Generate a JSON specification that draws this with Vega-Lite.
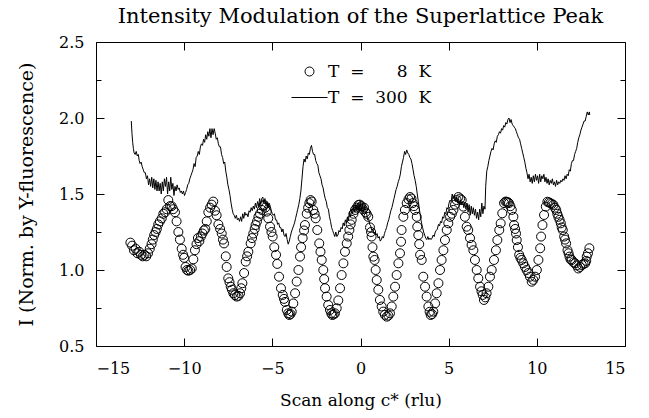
{
"$schema": "https://vega.github.io/schema/vega-lite/v6.json",
"width": 529,
"height": 304,
"autosize": "none",
"padding": {"left": 96, "top": 42, "right": 24, "bottom": 72},
"background": "white",
"config": {
 "font": "DejaVu Serif",
 "view": {"stroke": "black", "strokeWidth": 1},
 "axis": {"grid": false, "domain": false, "tickColor": "black", "labelColor": "black", "titleColor": "black", "labelFont": "DejaVu Serif", "titleFont": "DejaVu Serif", "titleFontWeight": "normal"}
},
"title": {"text": "Intensity Modulation of the Superlattice Peak", "fontSize": 21, "fontWeight": "normal", "font": "DejaVu Serif", "color": "black", "offset": 7},
"layer": [
{"data": {"values": [
{"x":-13.0,"y":1.98},{"x":-12.96,"y":1.9},{"x":-12.92,"y":1.84},{"x":-12.88,"y":1.8},{"x":-12.84,"y":1.77},{"x":-12.78,"y":1.76},{"x":-12.72,"y":1.78},{"x":-12.66,"y":1.75},{"x":-12.6,"y":1.76},{"x":-12.55,"y":1.72},{"x":-12.5,"y":1.7},{"x":-12.44,"y":1.71},{"x":-12.38,"y":1.68},{"x":-12.32,"y":1.66},{"x":-12.26,"y":1.64},{"x":-12.2,"y":1.64},{"x":-12.14,"y":1.6},{"x":-12.08,"y":1.62},{"x":-12.02,"y":1.56},{"x":-11.96,"y":1.6},{"x":-11.9,"y":1.55},{"x":-11.84,"y":1.61},{"x":-11.78,"y":1.54},{"x":-11.72,"y":1.6},{"x":-11.66,"y":1.53},{"x":-11.6,"y":1.59},{"x":-11.54,"y":1.52},{"x":-11.48,"y":1.58},{"x":-11.42,"y":1.52},{"x":-11.36,"y":1.57},{"x":-11.3,"y":1.5},{"x":-11.24,"y":1.58},{"x":-11.18,"y":1.52},{"x":-11.12,"y":1.6},{"x":-11.06,"y":1.55},{"x":-11.0,"y":1.61},{"x":-10.94,"y":1.5},{"x":-10.88,"y":1.58},{"x":-10.82,"y":1.52},{"x":-10.76,"y":1.61},{"x":-10.7,"y":1.53},{"x":-10.64,"y":1.57},{"x":-10.58,"y":1.49},{"x":-10.52,"y":1.55},{"x":-10.46,"y":1.52},{"x":-10.4,"y":1.56},{"x":-10.34,"y":1.53},{"x":-10.28,"y":1.54},{"x":-10.22,"y":1.51},{"x":-10.16,"y":1.52},{"x":-10.1,"y":1.5},{"x":-10.04,"y":1.52},{"x":-9.98,"y":1.49},{"x":-9.92,"y":1.51},{"x":-9.86,"y":1.53},{"x":-9.8,"y":1.56},{"x":-9.74,"y":1.57},{"x":-9.68,"y":1.6},{"x":-9.62,"y":1.62},{"x":-9.56,"y":1.64},{"x":-9.5,"y":1.66},{"x":-9.44,"y":1.7},{"x":-9.38,"y":1.68},{"x":-9.32,"y":1.74},{"x":-9.26,"y":1.75},{"x":-9.2,"y":1.78},{"x":-9.14,"y":1.76},{"x":-9.08,"y":1.81},{"x":-9.02,"y":1.83},{"x":-8.96,"y":1.82},{"x":-8.9,"y":1.86},{"x":-8.84,"y":1.84},{"x":-8.78,"y":1.89},{"x":-8.72,"y":1.86},{"x":-8.66,"y":1.91},{"x":-8.6,"y":1.88},{"x":-8.54,"y":1.93},{"x":-8.48,"y":1.87},{"x":-8.42,"y":1.93},{"x":-8.36,"y":1.89},{"x":-8.3,"y":1.93},{"x":-8.24,"y":1.9},{"x":-8.18,"y":1.86},{"x":-8.12,"y":1.87},{"x":-8.06,"y":1.83},{"x":-8.0,"y":1.81},{"x":-7.94,"y":1.81},{"x":-7.88,"y":1.76},{"x":-7.82,"y":1.74},{"x":-7.76,"y":1.7},{"x":-7.7,"y":1.71},{"x":-7.64,"y":1.65},{"x":-7.58,"y":1.61},{"x":-7.52,"y":1.56},{"x":-7.46,"y":1.53},{"x":-7.4,"y":1.49},{"x":-7.34,"y":1.44},{"x":-7.28,"y":1.4},{"x":-7.22,"y":1.37},{"x":-7.16,"y":1.36},{"x":-7.1,"y":1.34},{"x":-7.04,"y":1.36},{"x":-6.98,"y":1.33},{"x":-6.92,"y":1.34},{"x":-6.86,"y":1.32},{"x":-6.8,"y":1.35},{"x":-6.74,"y":1.32},{"x":-6.68,"y":1.37},{"x":-6.62,"y":1.34},{"x":-6.56,"y":1.38},{"x":-6.5,"y":1.36},{"x":-6.44,"y":1.37},{"x":-6.38,"y":1.35},{"x":-6.32,"y":1.39},{"x":-6.26,"y":1.38},{"x":-6.2,"y":1.41},{"x":-6.14,"y":1.39},{"x":-6.08,"y":1.42},{"x":-6.02,"y":1.4},{"x":-5.96,"y":1.44},{"x":-5.9,"y":1.41},{"x":-5.84,"y":1.45},{"x":-5.78,"y":1.42},{"x":-5.72,"y":1.47},{"x":-5.66,"y":1.43},{"x":-5.6,"y":1.47},{"x":-5.54,"y":1.48},{"x":-5.48,"y":1.44},{"x":-5.42,"y":1.47},{"x":-5.36,"y":1.42},{"x":-5.3,"y":1.45},{"x":-5.24,"y":1.41},{"x":-5.18,"y":1.44},{"x":-5.12,"y":1.42},{"x":-5.06,"y":1.39},{"x":-5.0,"y":1.37},{"x":-4.94,"y":1.36},{"x":-4.88,"y":1.37},{"x":-4.82,"y":1.33},{"x":-4.76,"y":1.33},{"x":-4.7,"y":1.3},{"x":-4.64,"y":1.31},{"x":-4.58,"y":1.28},{"x":-4.52,"y":1.28},{"x":-4.46,"y":1.25},{"x":-4.4,"y":1.27},{"x":-4.34,"y":1.23},{"x":-4.28,"y":1.22},{"x":-4.22,"y":1.24},{"x":-4.16,"y":1.2},{"x":-4.1,"y":1.17},{"x":-4.04,"y":1.19},{"x":-3.98,"y":1.22},{"x":-3.92,"y":1.25},{"x":-3.86,"y":1.27},{"x":-3.8,"y":1.29},{"x":-3.74,"y":1.31},{"x":-3.68,"y":1.34},{"x":-3.62,"y":1.37},{"x":-3.56,"y":1.4},{"x":-3.5,"y":1.43},{"x":-3.44,"y":1.47},{"x":-3.38,"y":1.52},{"x":-3.32,"y":1.6},{"x":-3.26,"y":1.68},{"x":-3.2,"y":1.73},{"x":-3.14,"y":1.71},{"x":-3.08,"y":1.75},{"x":-3.02,"y":1.73},{"x":-2.96,"y":1.77},{"x":-2.9,"y":1.76},{"x":-2.84,"y":1.8},{"x":-2.78,"y":1.82},{"x":-2.72,"y":1.78},{"x":-2.66,"y":1.76},{"x":-2.6,"y":1.76},{"x":-2.54,"y":1.72},{"x":-2.48,"y":1.7},{"x":-2.42,"y":1.69},{"x":-2.36,"y":1.64},{"x":-2.3,"y":1.62},{"x":-2.24,"y":1.6},{"x":-2.18,"y":1.56},{"x":-2.12,"y":1.54},{"x":-2.06,"y":1.5},{"x":-2.0,"y":1.47},{"x":-1.94,"y":1.45},{"x":-1.88,"y":1.41},{"x":-1.82,"y":1.4},{"x":-1.76,"y":1.35},{"x":-1.7,"y":1.32},{"x":-1.64,"y":1.28},{"x":-1.58,"y":1.26},{"x":-1.52,"y":1.24},{"x":-1.46,"y":1.22},{"x":-1.4,"y":1.25},{"x":-1.34,"y":1.22},{"x":-1.28,"y":1.23},{"x":-1.22,"y":1.26},{"x":-1.16,"y":1.25},{"x":-1.1,"y":1.28},{"x":-1.04,"y":1.27},{"x":-0.98,"y":1.31},{"x":-0.92,"y":1.29},{"x":-0.86,"y":1.33},{"x":-0.8,"y":1.31},{"x":-0.74,"y":1.35},{"x":-0.68,"y":1.33},{"x":-0.62,"y":1.38},{"x":-0.56,"y":1.35},{"x":-0.5,"y":1.4},{"x":-0.44,"y":1.37},{"x":-0.38,"y":1.42},{"x":-0.32,"y":1.38},{"x":-0.26,"y":1.43},{"x":-0.2,"y":1.39},{"x":-0.14,"y":1.44},{"x":-0.08,"y":1.4},{"x":-0.02,"y":1.45},{"x":0.04,"y":1.39},{"x":0.1,"y":1.44},{"x":0.16,"y":1.38},{"x":0.22,"y":1.42},{"x":0.28,"y":1.37},{"x":0.34,"y":1.38},{"x":0.4,"y":1.33},{"x":0.46,"y":1.34},{"x":0.52,"y":1.3},{"x":0.58,"y":1.29},{"x":0.64,"y":1.26},{"x":0.7,"y":1.27},{"x":0.76,"y":1.24},{"x":0.82,"y":1.25},{"x":0.88,"y":1.23},{"x":0.94,"y":1.24},{"x":1.0,"y":1.21},{"x":1.06,"y":1.22},{"x":1.12,"y":1.19},{"x":1.18,"y":1.2},{"x":1.24,"y":1.22},{"x":1.3,"y":1.21},{"x":1.36,"y":1.24},{"x":1.42,"y":1.26},{"x":1.48,"y":1.28},{"x":1.54,"y":1.31},{"x":1.6,"y":1.33},{"x":1.66,"y":1.36},{"x":1.72,"y":1.39},{"x":1.78,"y":1.41},{"x":1.84,"y":1.44},{"x":1.9,"y":1.47},{"x":1.96,"y":1.5},{"x":2.02,"y":1.53},{"x":2.08,"y":1.55},{"x":2.14,"y":1.58},{"x":2.2,"y":1.6},{"x":2.26,"y":1.63},{"x":2.32,"y":1.68},{"x":2.38,"y":1.71},{"x":2.44,"y":1.74},{"x":2.5,"y":1.78},{"x":2.56,"y":1.76},{"x":2.62,"y":1.79},{"x":2.68,"y":1.77},{"x":2.74,"y":1.76},{"x":2.8,"y":1.74},{"x":2.86,"y":1.73},{"x":2.92,"y":1.7},{"x":2.98,"y":1.66},{"x":3.04,"y":1.62},{"x":3.1,"y":1.59},{"x":3.16,"y":1.55},{"x":3.22,"y":1.5},{"x":3.28,"y":1.45},{"x":3.34,"y":1.4},{"x":3.4,"y":1.35},{"x":3.46,"y":1.31},{"x":3.52,"y":1.28},{"x":3.58,"y":1.25},{"x":3.64,"y":1.23},{"x":3.7,"y":1.21},{"x":3.76,"y":1.2},{"x":3.82,"y":1.22},{"x":3.88,"y":1.2},{"x":3.94,"y":1.21},{"x":4.0,"y":1.2},{"x":4.06,"y":1.21},{"x":4.12,"y":1.23},{"x":4.18,"y":1.22},{"x":4.24,"y":1.25},{"x":4.3,"y":1.26},{"x":4.36,"y":1.27},{"x":4.42,"y":1.3},{"x":4.48,"y":1.29},{"x":4.54,"y":1.32},{"x":4.6,"y":1.31},{"x":4.66,"y":1.35},{"x":4.72,"y":1.34},{"x":4.78,"y":1.38},{"x":4.84,"y":1.37},{"x":4.9,"y":1.41},{"x":4.96,"y":1.4},{"x":5.02,"y":1.44},{"x":5.08,"y":1.46},{"x":5.14,"y":1.45},{"x":5.2,"y":1.5},{"x":5.26,"y":1.47},{"x":5.32,"y":1.49},{"x":5.38,"y":1.45},{"x":5.44,"y":1.48},{"x":5.5,"y":1.44},{"x":5.56,"y":1.47},{"x":5.62,"y":1.43},{"x":5.68,"y":1.46},{"x":5.74,"y":1.43},{"x":5.8,"y":1.45},{"x":5.86,"y":1.41},{"x":5.92,"y":1.44},{"x":5.98,"y":1.4},{"x":6.04,"y":1.44},{"x":6.1,"y":1.38},{"x":6.16,"y":1.43},{"x":6.22,"y":1.36},{"x":6.28,"y":1.42},{"x":6.34,"y":1.37},{"x":6.4,"y":1.41},{"x":6.46,"y":1.36},{"x":6.52,"y":1.4},{"x":6.58,"y":1.34},{"x":6.64,"y":1.38},{"x":6.7,"y":1.33},{"x":6.76,"y":1.4},{"x":6.82,"y":1.35},{"x":6.88,"y":1.44},{"x":6.94,"y":1.37},{"x":7.0,"y":1.42},{"x":7.06,"y":1.4},{"x":7.1,"y":1.55},{"x":7.16,"y":1.65},{"x":7.22,"y":1.68},{"x":7.28,"y":1.72},{"x":7.34,"y":1.75},{"x":7.4,"y":1.78},{"x":7.46,"y":1.8},{"x":7.52,"y":1.79},{"x":7.58,"y":1.83},{"x":7.64,"y":1.85},{"x":7.7,"y":1.84},{"x":7.76,"y":1.88},{"x":7.82,"y":1.89},{"x":7.88,"y":1.91},{"x":7.94,"y":1.9},{"x":8.0,"y":1.93},{"x":8.06,"y":1.92},{"x":8.12,"y":1.95},{"x":8.18,"y":1.94},{"x":8.24,"y":1.97},{"x":8.3,"y":1.96},{"x":8.36,"y":1.99},{"x":8.42,"y":2.0},{"x":8.48,"y":1.97},{"x":8.54,"y":1.99},{"x":8.6,"y":1.96},{"x":8.66,"y":1.95},{"x":8.72,"y":1.94},{"x":8.78,"y":1.93},{"x":8.84,"y":1.91},{"x":8.9,"y":1.89},{"x":8.96,"y":1.87},{"x":9.02,"y":1.86},{"x":9.08,"y":1.83},{"x":9.14,"y":1.8},{"x":9.2,"y":1.77},{"x":9.26,"y":1.74},{"x":9.32,"y":1.71},{"x":9.38,"y":1.67},{"x":9.44,"y":1.64},{"x":9.5,"y":1.6},{"x":9.56,"y":1.63},{"x":9.62,"y":1.58},{"x":9.68,"y":1.61},{"x":9.74,"y":1.57},{"x":9.8,"y":1.62},{"x":9.86,"y":1.58},{"x":9.92,"y":1.63},{"x":9.98,"y":1.59},{"x":10.04,"y":1.62},{"x":10.1,"y":1.57},{"x":10.16,"y":1.63},{"x":10.22,"y":1.58},{"x":10.28,"y":1.62},{"x":10.34,"y":1.6},{"x":10.4,"y":1.63},{"x":10.46,"y":1.58},{"x":10.52,"y":1.61},{"x":10.58,"y":1.57},{"x":10.64,"y":1.6},{"x":10.7,"y":1.56},{"x":10.76,"y":1.59},{"x":10.82,"y":1.57},{"x":10.88,"y":1.6},{"x":10.94,"y":1.56},{"x":11.0,"y":1.58},{"x":11.06,"y":1.55},{"x":11.12,"y":1.59},{"x":11.18,"y":1.56},{"x":11.24,"y":1.58},{"x":11.3,"y":1.57},{"x":11.36,"y":1.59},{"x":11.42,"y":1.58},{"x":11.48,"y":1.6},{"x":11.54,"y":1.59},{"x":11.6,"y":1.62},{"x":11.66,"y":1.6},{"x":11.72,"y":1.63},{"x":11.78,"y":1.62},{"x":11.84,"y":1.66},{"x":11.9,"y":1.65},{"x":11.96,"y":1.7},{"x":12.02,"y":1.72},{"x":12.08,"y":1.72},{"x":12.14,"y":1.76},{"x":12.2,"y":1.78},{"x":12.26,"y":1.8},{"x":12.32,"y":1.84},{"x":12.38,"y":1.87},{"x":12.44,"y":1.89},{"x":12.5,"y":1.92},{"x":12.56,"y":1.94},{"x":12.62,"y":1.96},{"x":12.68,"y":1.98},{"x":12.74,"y":1.98},{"x":12.8,"y":2.01},{"x":12.86,"y":2.04},{"x":12.92,"y":2.02},{"x":12.98,"y":2.04},{"x":13.0,"y":2.02}
 ]},
 "mark": {"type": "line", "color": "black", "strokeWidth": 1},
 "encoding": {
  "x": {"field": "x", "type": "quantitative", "scale": {"domain": [-15, 15], "nice": false, "zero": false},
        "axis": {"orient": "bottom", "values": [-15,-10,-5,0,5,10,15], "tickSize": -8, "labelPadding": 22, "labelFontSize": 16, "title": "Scan along c* (rlu)", "titleFontSize": 17, "titlePadding": 16}},
  "y": {"field": "y", "type": "quantitative", "scale": {"domain": [0.5, 2.5], "nice": false, "zero": false},
        "axis": {"orient": "left", "values": [0.5,0.75,1,1.25,1.5,1.75,2,2.25,2.5], "tickSize": {"condition": {"test": "(datum.value*2) % 1 == 0", "value": -8}, "value": -5}, "labelExpr": "(datum.value*2) % 1 == 0 ? format(datum.value, '.1f') : ''", "labelPadding": 20, "labelFontSize": 16, "title": "I (Norm. by Y-fluorescence)", "titleFontSize": 19, "titlePadding": 22}}
 }
},
{"data": {"values": [
{"x":-13.05,"y":1.18},{"x":-12.95,"y":1.16},{"x":-12.85,"y":1.13},{"x":-12.75,"y":1.14},{"x":-12.65,"y":1.11},{"x":-12.55,"y":1.12},{"x":-12.45,"y":1.1},{"x":-12.35,"y":1.09},{"x":-12.25,"y":1.1},{"x":-12.15,"y":1.09},{"x":-12.05,"y":1.11},{"x":-11.95,"y":1.14},{"x":-11.85,"y":1.17},{"x":-11.78,"y":1.2},{"x":-11.7,"y":1.23},{"x":-11.62,"y":1.25},{"x":-11.55,"y":1.27},{"x":-11.47,"y":1.3},{"x":-11.38,"y":1.32},{"x":-11.27,"y":1.34},{"x":-11.18,"y":1.37},{"x":-11.08,"y":1.38},{"x":-10.99,"y":1.4},{"x":-10.9,"y":1.46},{"x":-10.8,"y":1.42},{"x":-10.71,"y":1.42},{"x":-10.62,"y":1.4},{"x":-10.52,"y":1.38},{"x":-10.43,"y":1.32},{"x":-10.33,"y":1.25},{"x":-10.24,"y":1.2},{"x":-10.14,"y":1.14},{"x":-10.06,"y":1.1},{"x":-10.0,"y":1.08},{"x":-9.92,"y":1.02},{"x":-9.84,"y":1.0},{"x":-9.76,"y":0.995},{"x":-9.66,"y":1.0},{"x":-9.57,"y":1.01},{"x":-9.48,"y":1.07},{"x":-9.39,"y":1.13},{"x":-9.3,"y":1.17},{"x":-9.22,"y":1.21},{"x":-9.14,"y":1.19},{"x":-9.05,"y":1.22},{"x":-8.96,"y":1.24},{"x":-8.88,"y":1.26},{"x":-8.8,"y":1.27},{"x":-8.72,"y":1.32},{"x":-8.63,"y":1.38},{"x":-8.53,"y":1.41},{"x":-8.44,"y":1.43},{"x":-8.35,"y":1.45},{"x":-8.25,"y":1.39},{"x":-8.16,"y":1.36},{"x":-8.06,"y":1.3},{"x":-7.96,"y":1.27},{"x":-7.87,"y":1.24},{"x":-7.8,"y":1.2},{"x":-7.74,"y":1.175},{"x":-7.64,"y":1.09},{"x":-7.59,"y":1.02},{"x":-7.5,"y":0.945},{"x":-7.43,"y":0.92},{"x":-7.36,"y":0.89},{"x":-7.29,"y":0.87},{"x":-7.21,"y":0.847},{"x":-7.12,"y":0.835},{"x":-7.02,"y":0.825},{"x":-6.92,"y":0.83},{"x":-6.83,"y":0.847},{"x":-6.76,"y":0.88},{"x":-6.7,"y":0.913},{"x":-6.6,"y":0.98},{"x":-6.51,"y":1.055},{"x":-6.43,"y":1.09},{"x":-6.36,"y":1.12},{"x":-6.23,"y":1.175},{"x":-6.15,"y":1.21},{"x":-6.08,"y":1.24},{"x":-6.0,"y":1.27},{"x":-5.95,"y":1.296},{"x":-5.87,"y":1.32},{"x":-5.79,"y":1.35},{"x":-5.7,"y":1.37},{"x":-5.6,"y":1.395},{"x":-5.52,"y":1.42},{"x":-5.47,"y":1.428},{"x":-5.4,"y":1.41},{"x":-5.32,"y":1.384},{"x":-5.23,"y":1.34},{"x":-5.13,"y":1.285},{"x":-5.05,"y":1.25},{"x":-4.98,"y":1.22},{"x":-4.89,"y":1.15},{"x":-4.79,"y":1.1},{"x":-4.72,"y":1.04},{"x":-4.62,"y":0.956},{"x":-4.51,"y":0.88},{"x":-4.41,"y":0.836},{"x":-4.34,"y":0.81},{"x":-4.28,"y":0.79},{"x":-4.18,"y":0.737},{"x":-4.1,"y":0.715},{"x":-4.04,"y":0.704},{"x":-3.97,"y":0.71},{"x":-3.9,"y":0.726},{"x":-3.81,"y":0.78},{"x":-3.71,"y":0.847},{"x":-3.62,"y":0.924},{"x":-3.52,"y":1.0},{"x":-3.43,"y":1.088},{"x":-3.37,"y":1.15},{"x":-3.28,"y":1.21},{"x":-3.2,"y":1.26},{"x":-3.15,"y":1.296},{"x":-3.05,"y":1.37},{"x":-2.97,"y":1.41},{"x":-2.9,"y":1.44},{"x":-2.83,"y":1.46},{"x":-2.77,"y":1.45},{"x":-2.68,"y":1.395},{"x":-2.6,"y":1.37},{"x":-2.54,"y":1.34},{"x":-2.45,"y":1.263},{"x":-2.34,"y":1.175},{"x":-2.27,"y":1.12},{"x":-2.2,"y":1.066},{"x":-2.11,"y":1.0},{"x":-2.06,"y":0.94},{"x":-2.01,"y":0.88},{"x":-1.92,"y":0.825},{"x":-1.83,"y":0.77},{"x":-1.73,"y":0.737},{"x":-1.66,"y":0.715},{"x":-1.6,"y":0.704},{"x":-1.52,"y":0.708},{"x":-1.45,"y":0.715},{"x":-1.35,"y":0.748},{"x":-1.26,"y":0.8},{"x":-1.16,"y":0.88},{"x":-1.07,"y":0.967},{"x":-0.97,"y":1.044},{"x":-0.88,"y":1.12},{"x":-0.78,"y":1.175},{"x":-0.7,"y":1.22},{"x":-0.63,"y":1.263},{"x":-0.56,"y":1.3},{"x":-0.5,"y":1.33},{"x":-0.4,"y":1.37},{"x":-0.31,"y":1.395},{"x":-0.22,"y":1.41},{"x":-0.12,"y":1.428},{"x":-0.04,"y":1.43},{"x":0.05,"y":1.42},{"x":0.13,"y":1.4},{"x":0.2,"y":1.41},{"x":0.28,"y":1.38},{"x":0.35,"y":1.37},{"x":0.44,"y":1.35},{"x":0.54,"y":1.28},{"x":0.6,"y":1.25},{"x":0.63,"y":1.22},{"x":0.68,"y":1.15},{"x":0.73,"y":1.088},{"x":0.8,"y":1.066},{"x":0.86,"y":1.0},{"x":0.92,"y":0.934},{"x":1.01,"y":0.87},{"x":1.1,"y":0.803},{"x":1.2,"y":0.76},{"x":1.29,"y":0.726},{"x":1.38,"y":0.705},{"x":1.49,"y":0.693},{"x":1.58,"y":0.7},{"x":1.67,"y":0.715},{"x":1.77,"y":0.76},{"x":1.86,"y":0.825},{"x":1.96,"y":0.89},{"x":2.05,"y":0.967},{"x":2.15,"y":1.044},{"x":2.24,"y":1.11},{"x":2.3,"y":1.186},{"x":2.33,"y":1.263},{"x":2.43,"y":1.35},{"x":2.52,"y":1.395},{"x":2.62,"y":1.44},{"x":2.72,"y":1.465},{"x":2.81,"y":1.48},{"x":2.89,"y":1.47},{"x":2.96,"y":1.44},{"x":3.03,"y":1.42},{"x":3.09,"y":1.395},{"x":3.19,"y":1.35},{"x":3.22,"y":1.285},{"x":3.28,"y":1.23},{"x":3.33,"y":1.17},{"x":3.38,"y":1.1},{"x":3.47,"y":1.066},{"x":3.56,"y":0.956},{"x":3.66,"y":0.89},{"x":3.75,"y":0.825},{"x":3.85,"y":0.76},{"x":3.92,"y":0.725},{"x":3.98,"y":0.704},{"x":4.06,"y":0.71},{"x":4.13,"y":0.726},{"x":4.23,"y":0.78},{"x":4.32,"y":0.847},{"x":4.42,"y":0.913},{"x":4.51,"y":1.0},{"x":4.6,"y":1.066},{"x":4.7,"y":1.13},{"x":4.79,"y":1.197},{"x":4.89,"y":1.263},{"x":4.98,"y":1.307},{"x":5.08,"y":1.35},{"x":5.18,"y":1.37},{"x":5.27,"y":1.395},{"x":5.36,"y":1.43},{"x":5.45,"y":1.46},{"x":5.55,"y":1.48},{"x":5.65,"y":1.47},{"x":5.74,"y":1.46},{"x":5.83,"y":1.417},{"x":5.92,"y":1.35},{"x":6.02,"y":1.285},{"x":6.11,"y":1.263},{"x":6.21,"y":1.21},{"x":6.3,"y":1.165},{"x":6.4,"y":1.13},{"x":6.49,"y":1.066},{"x":6.59,"y":1.0},{"x":6.68,"y":0.945},{"x":6.78,"y":0.89},{"x":6.86,"y":0.86},{"x":6.93,"y":0.836},{"x":7.0,"y":0.803},{"x":7.08,"y":0.82},{"x":7.15,"y":0.847},{"x":7.25,"y":0.89},{"x":7.34,"y":0.956},{"x":7.44,"y":1.0},{"x":7.57,"y":1.066},{"x":7.68,"y":1.13},{"x":7.76,"y":1.197},{"x":7.87,"y":1.263},{"x":7.95,"y":1.307},{"x":8.04,"y":1.373},{"x":8.14,"y":1.44},{"x":8.22,"y":1.45},{"x":8.29,"y":1.449},{"x":8.36,"y":1.445},{"x":8.42,"y":1.44},{"x":8.5,"y":1.42},{"x":8.58,"y":1.395},{"x":8.67,"y":1.35},{"x":8.71,"y":1.296},{"x":8.77,"y":1.27},{"x":8.82,"y":1.24},{"x":8.86,"y":1.197},{"x":8.93,"y":1.15},{"x":9.0,"y":1.1},{"x":9.07,"y":1.08},{"x":9.14,"y":1.066},{"x":9.23,"y":1.044},{"x":9.33,"y":1.02},{"x":9.42,"y":1.0},{"x":9.52,"y":0.98},{"x":9.61,"y":0.956},{"x":9.71,"y":0.923},{"x":9.8,"y":0.935},{"x":9.9,"y":0.956},{"x":10.0,"y":1.0},{"x":10.09,"y":1.066},{"x":10.19,"y":1.143},{"x":10.24,"y":1.22},{"x":10.32,"y":1.296},{"x":10.41,"y":1.362},{"x":10.51,"y":1.417},{"x":10.6,"y":1.449},{"x":10.68,"y":1.445},{"x":10.76,"y":1.44},{"x":10.85,"y":1.435},{"x":10.94,"y":1.428},{"x":11.02,"y":1.41},{"x":11.1,"y":1.395},{"x":11.16,"y":1.37},{"x":11.22,"y":1.35},{"x":11.29,"y":1.33},{"x":11.36,"y":1.307},{"x":11.41,"y":1.28},{"x":11.47,"y":1.263},{"x":11.55,"y":1.22},{"x":11.6,"y":1.2},{"x":11.66,"y":1.175},{"x":11.74,"y":1.13},{"x":11.8,"y":1.11},{"x":11.85,"y":1.088},{"x":11.91,"y":1.07},{"x":11.98,"y":1.066},{"x":12.08,"y":1.05},{"x":12.17,"y":1.044},{"x":12.26,"y":1.03},{"x":12.35,"y":1.01},{"x":12.45,"y":1.02},{"x":12.55,"y":1.033},{"x":12.65,"y":1.04},{"x":12.74,"y":1.044},{"x":12.8,"y":1.06},{"x":12.83,"y":1.088},{"x":12.9,"y":1.11},{"x":12.98,"y":1.143}
 ]},
 "mark": {"type": "point", "filled": false, "stroke": "black", "strokeWidth": 1, "size": 81, "opacity": 1},
 "encoding": {
  "x": {"field": "x", "type": "quantitative", "scale": {"domain": [-15, 15], "nice": false, "zero": false},
        "axis": {"orient": "top", "values": [-15,-10,-5,0,5,10,15], "tickSize": -8, "labels": false, "title": null}},
  "y": {"field": "y", "type": "quantitative", "scale": {"domain": [0.5, 2.5], "nice": false, "zero": false},
        "axis": {"orient": "right", "values": [0.5,0.75,1,1.25,1.5,1.75,2,2.25,2.5], "tickSize": {"condition": {"test": "(datum.value*2) % 1 == 0", "value": -8}, "value": -5}, "labels": false, "title": null}},
  "shape": {"datum": "T\u00a0\u00a0=\u00a0\u00a0\u2007\u20078\u00a0\u00a0K", "type": "nominal",
    "scale": {"domain": ["T\u00a0\u00a0=\u00a0\u00a0\u2007\u20078\u00a0\u00a0K", "T\u00a0\u00a0=\u00a0\u00a0300\u00a0\u00a0K"], "range": ["circle", "M-4,0H4"]},
    "legend": {"orient": "none", "legendX": 205, "legendY": 21, "title": null, "labelFontSize": 17, "labelFont": "DejaVu Serif", "labelColor": "black", "symbolSize": 81, "symbolStrokeColor": "black", "symbolFillColor": "transparent", "symbolStrokeWidth": 1, "labelOffset": 10, "rowPadding": 8}}
 }
}
],
"resolve": {"axis": {"x": "independent", "y": "independent"}}
}
